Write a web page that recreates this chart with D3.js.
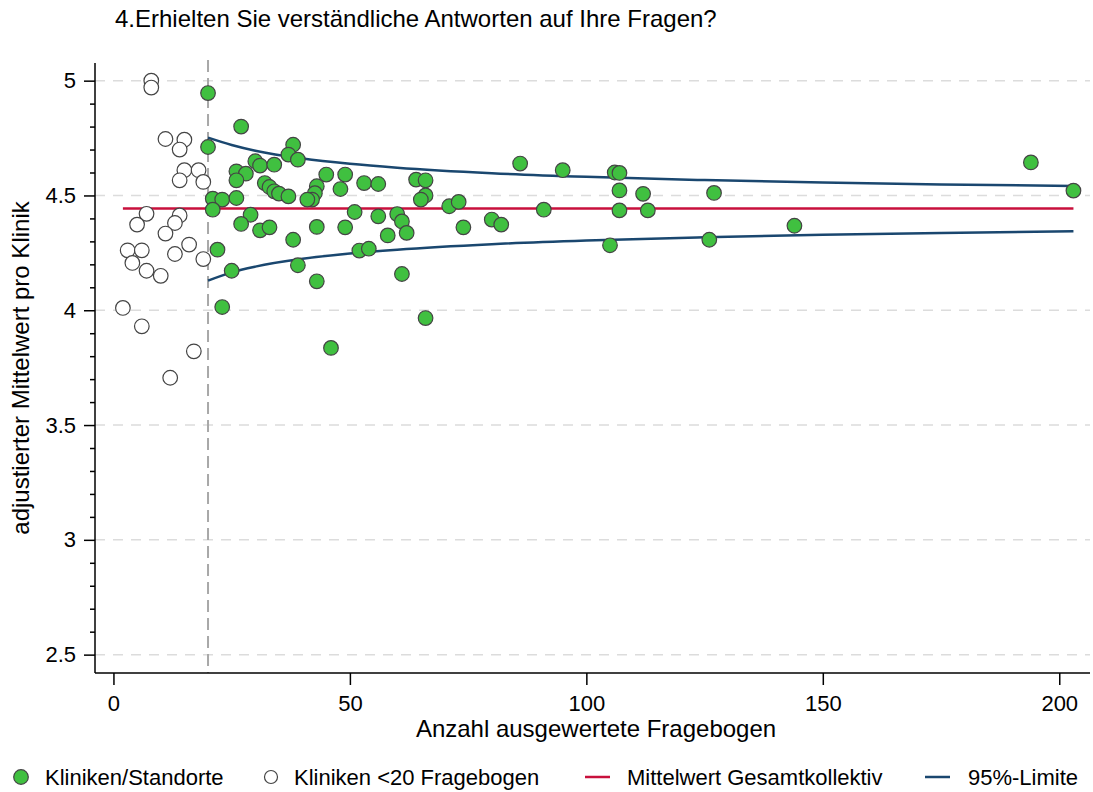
<!DOCTYPE html>
<html>
<head>
<meta charset="utf-8">
<script src="https://cdn.jsdelivr.net/npm/d3@7"></script>
<style>
  body { margin: 0; background: #fff; }
  text { font-family: "Liberation Sans", Arial, sans-serif; fill: #000; }
</style>
</head>
<body>
<div id="chart"></div>
<script>
// Funnel plot: adjusted mean per clinic vs number of questionnaires

// clinics with >= 20 questionnaires (n, adjusted mean)
var clinicN = [20, 27, 20, 38, 37, 39, 30, 31, 34, 26, 28, 26, 45, 32, 33, 34, 35, 37, 43, 42.6,
  42, 41, 48, 21, 23, 26, 21, 29, 27, 31, 33, 43, 38, 22, 25, 39, 43, 23, 49, 53,
  56, 64, 66, 66, 65, 51, 56, 60, 61, 62, 58, 49, 71, 52, 54, 61, 66, 46, 86, 95,
  106, 107, 107, 112, 73, 74, 80, 82, 91, 107, 113, 105, 127, 126, 144, 194, 203];
var clinicMean = [4.946, 4.80, 4.711, 4.721, 4.678, 4.656, 4.649, 4.63, 4.634, 4.605, 4.595, 4.566, 4.591, 4.554, 4.537, 4.518, 4.508, 4.496, 4.54, 4.51,
  4.482, 4.482, 4.528, 4.486, 4.482, 4.489, 4.438, 4.416, 4.376, 4.348, 4.361, 4.363, 4.307, 4.264, 4.172, 4.196, 4.126, 4.014, 4.591, 4.554,
  4.55, 4.569, 4.566, 4.50, 4.482, 4.428, 4.409, 4.419, 4.387, 4.337, 4.326, 4.361, 4.453, 4.26, 4.268, 4.158, 3.966, 3.836, 4.639, 4.61,
  4.60, 4.598, 4.522, 4.507, 4.472, 4.361, 4.395, 4.373, 4.438, 4.435, 4.435, 4.283, 4.511, 4.307, 4.368, 4.644, 4.521];

// clinics with < 20 questionnaires
var smallN = [8, 8, 11, 15, 14, 15, 18, 14, 19, 7, 5, 14, 13, 11, 3, 6, 4, 16, 13, 19, 7, 10, 2, 6, 17, 12];
var smallMean = [5.0, 4.97, 4.746, 4.743, 4.70, 4.61, 4.61, 4.566, 4.559, 4.42, 4.373, 4.413, 4.38, 4.334, 4.261, 4.261, 4.206, 4.286, 4.245, 4.223, 4.172, 4.15, 4.01, 3.93, 3.821, 3.706];

// overall mean and 95% limits
var overallMean = 4.443;
var meanRange = [2, 203];
var limitN = [20, 25, 30, 40, 50, 60, 80, 100, 125, 150, 175, 203];
var upperLimit = [4.752, 4.720, 4.695, 4.661, 4.638, 4.621, 4.597, 4.581, 4.567, 4.556, 4.548, 4.541];
var lowerLimit = [4.129, 4.165, 4.190, 4.224, 4.247, 4.264, 4.288, 4.304, 4.318, 4.329, 4.337, 4.344];

var cutoffN = 20;
var xTicks = [0, 50, 100, 150, 200];
var yTicks = [2.5, 3, 3.5, 4, 4.5, 5];
var yMinorTicks = [2.6, 2.7, 2.8, 2.9, 3.1, 3.2, 3.3, 3.4, 3.6, 3.7, 3.8, 3.9, 4.1, 4.2, 4.3, 4.4, 4.6, 4.7, 4.8, 4.9];

var titleText = "4.Erhielten Sie verständliche Antworten auf Ihre Fragen?";
var xTitle = "Anzahl ausgewertete Fragebogen";
var yTitle = "adjustierter Mittelwert pro Klinik";
var legendLabels = ["Kliniken/Standorte", "Kliniken <20 Fragebogen", "Mittelwert Gesamtkollektiv", "95%-Limite"];

var width = 1093, height = 792;
var fs = "22px", fsTitle = "24px";
var green = "#40c040", red = "#c8103c", navy = "#1a476f";

var svg = d3.select("#chart").append("svg")
    .attr("width", width)
    .attr("height", height);

var x = d3.scaleLinear().domain([-3.9, 206.5]).range([95, 1090]);
var y = d3.scaleLinear().domain([2.42, 5.09]).range([673, 60]);

// gridlines
svg.append("g").selectAll("line")
    .data(yTicks)
  .enter().append("line")
    .attr("x1", x.range()[0]).attr("x2", x.range()[1])
    .attr("y1", d => y(d)).attr("y2", d => y(d))
    .attr("stroke", "#dcdcdc")
    .attr("stroke-width", 1.5)
    .attr("stroke-dasharray", "10,8");

// cutoff line
svg.append("line")
    .attr("x1", x(cutoffN)).attr("x2", x(cutoffN))
    .attr("y1", y.range()[1]).attr("y2", y.range()[0])
    .attr("stroke", "#a8a8a8")
    .attr("stroke-width", 2)
    .attr("stroke-dasharray", "12,6");

// axes
var yAxis = d3.axisLeft(y).tickValues(yTicks).tickSize(11).tickPadding(8).tickFormat(d3.format("~g"));
var yMinor = d3.axisLeft(y).tickValues(yMinorTicks).tickSize(5).tickFormat("");
var xAxis = d3.axisBottom(x).tickValues(xTicks).tickSize(12).tickPadding(10);

var gy = svg.append("g").attr("transform", "translate(95,0)").call(yAxis);
var gym = svg.append("g").attr("transform", "translate(95,0)").call(yMinor);
var gx = svg.append("g").attr("transform", "translate(0,673)").call(xAxis);
gym.select(".domain").remove();
gym.selectAll(".tick line").attr("stroke", "#000").attr("stroke-width", 1.5);
[gx, gy].forEach(function(g) {
    g.select(".domain").attr("stroke", "#000").attr("stroke-width", 1.5);
    g.selectAll(".tick line").attr("stroke", "#000").attr("stroke-width", 1.5);
    g.selectAll(".tick text").style("font-size", fs).style("font-family", "Liberation Sans, Arial, sans-serif");
});
gy.select(".domain").attr("d", "M0," + (y.range()[1] + 3) + "V" + y.range()[0]);
gx.select(".domain").attr("d", "M" + x.range()[0] + ",0H" + x.range()[1]);

// mean line
svg.append("line")
    .attr("x1", x(meanRange[0])).attr("x2", x(meanRange[1]))
    .attr("y1", y(overallMean)).attr("y2", y(overallMean))
    .attr("stroke", red)
    .attr("stroke-width", 2.5);

// 95% limits
var limitLine = d3.line().curve(d3.curveMonotoneX)
    .x(d => x(d[0])).y(d => y(d[1]));
[upperLimit, lowerLimit].forEach(function(lim) {
    svg.append("path")
        .attr("d", limitLine(limitN.map((n, i) => [n, lim[i]])))
        .attr("fill", "none")
        .attr("stroke", navy)
        .attr("stroke-width", 2.5);
});

// points
svg.append("g").selectAll("circle")
    .data(smallN.map((n, i) => [n, smallMean[i]]))
  .enter().append("circle")
    .attr("cx", d => x(d[0])).attr("cy", d => y(d[1]))
    .attr("r", 7.3)
    .attr("fill", "#fff")
    .attr("stroke", "#444")
    .attr("stroke-width", 1.2);

svg.append("g").selectAll("circle")
    .data(clinicN.map((n, i) => [n, clinicMean[i]]))
  .enter().append("circle")
    .attr("cx", d => x(d[0])).attr("cy", d => y(d[1]))
    .attr("r", 7.3)
    .attr("fill", green)
    .attr("stroke", "#444")
    .attr("stroke-width", 1.2);

// titles
svg.append("text")
    .attr("x", 115).attr("y", 27)
    .style("font-size", fsTitle)
    .text(titleText);

svg.append("text")
    .attr("x", 596).attr("y", 737)
    .attr("text-anchor", "middle")
    .style("font-size", fsTitle)
    .text(xTitle);

svg.append("text")
    .attr("transform", "translate(29,368) rotate(-90)")
    .attr("text-anchor", "middle")
    .style("font-size", fsTitle)
    .text(yTitle);

// legend
var ly = 777;
var legend = svg.append("g");
legend.append("circle").attr("cx", 21).attr("cy", ly).attr("r", 7.3)
    .attr("fill", green).attr("stroke", "#444").attr("stroke-width", 1.2);
legend.append("circle").attr("cx", 271).attr("cy", ly).attr("r", 6.5)
    .attr("fill", "#fff").attr("stroke", "#444").attr("stroke-width", 1.2);
legend.append("line").attr("x1", 585).attr("x2", 610).attr("y1", ly).attr("y2", ly)
    .attr("stroke", red).attr("stroke-width", 2.5);
legend.append("line").attr("x1", 925).attr("x2", 950).attr("y1", ly).attr("y2", ly)
    .attr("stroke", navy).attr("stroke-width", 2.5);
var legendX = [45, 294, 627, 968];
legend.selectAll("text")
    .data(legendLabels)
  .enter().append("text")
    .attr("x", (d, i) => legendX[i])
    .attr("y", ly + 8)
    .style("font-size", fs)
    .text(d => d);
</script>
</body>
</html>
